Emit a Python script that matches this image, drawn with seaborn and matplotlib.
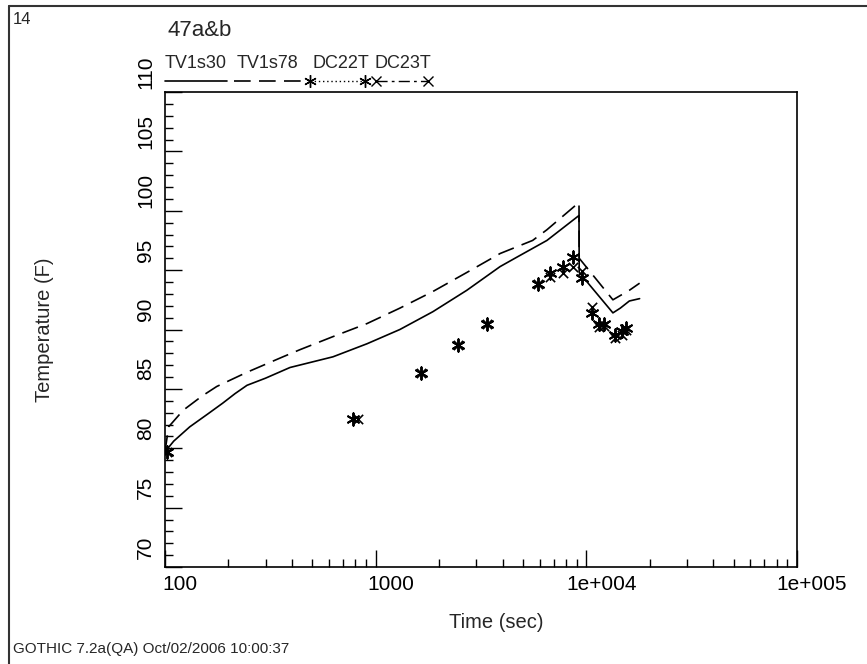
import numpy as np
import pandas as pd
import matplotlib
matplotlib.use("Agg")
import matplotlib.pyplot as plt
import matplotlib.transforms as mtransforms
import seaborn as sns
from matplotlib.ticker import MultipleLocator, FixedLocator, NullFormatter, LogLocator
from matplotlib.lines import Line2D

# time (sec) / temperature (F)
tv1s30_t = [100, 110, 131, 160, 188, 215, 245, 300, 392, 627, 910, 1303, 1869,
            2707, 3898, 4690, 6500, 9230, 9250, 13370, 14500, 16000, 17900]
tv1s30_T = [79.7, 80.6, 81.8, 82.9, 83.8, 84.6, 85.3, 85.9, 86.8, 87.7, 88.8, 90.0, 91.5,
            93.3, 95.3, 96.1, 97.5, 99.6, 94.8, 91.4, 91.8, 92.4, 92.6]

tv1s78_t = [100, 104, 122, 150, 176, 245, 363, 437, 627, 910, 1303, 1869, 2707,
            3898, 5560, 6500, 9230, 9250, 13370, 16000, 17900]
tv1s78_T = [79.7, 81.8, 83.2, 84.4, 85.2, 86.4, 87.7, 88.3, 89.4, 90.5, 91.8, 93.2, 94.8,
            96.4, 97.5, 98.4, 100.7, 96.0, 92.5, 93.3, 93.9]

dc22t_t = [102, 781, 1641, 2459, 3374, 5890, 6710, 7740, 8630, 9530, 10650, 11480, 12100, 13670, 14750, 15420]
dc22t_T = [79.7, 82.5, 86.3, 88.7, 90.5, 93.8, 94.8, 95.3, 96.1, 94.3, 91.4, 90.5, 90.5, 89.5, 89.9, 90.1]

dc23t_t = [102, 826, 1641, 2459, 3374, 5890, 6710, 7740, 8630, 9530, 10650, 11480, 12100, 13670, 14750, 15420]
dc23t_T = [79.7, 82.5, 86.3, 88.7, 90.5, 93.8, 94.4, 94.8, 95.3, 94.9, 91.9, 90.2, 90.3, 89.3, 89.5, 90.0]

legend_names = ["TV1s30", "TV1s78", "DC22T", "DC23T"]
xtick_vals = [100, 1000, 1e4, 1e5]
xtick_text = ["100", "1000", "1e+004", "1e+005"]

W, H = 867, 664

sns.set_style("ticks")
plt.rcParams["font.family"] = ["Liberation Sans", "DejaVu Sans"]
plt.rcParams["lines.scale_dashes"] = False


def fx(px):
    return px / W


def fy(py):
    return 1 - py / H


fig = plt.figure(figsize=(W / 100, H / 100), dpi=100)
ax = fig.add_axes([fx(165), fy(567), (797 - 165) / W, (567 - 92) / H])

dash = (0, (12, 6))
sns.lineplot(x=tv1s30_t, y=tv1s30_T, ax=ax, color="black", lw=1.2,
             sort=False, estimator=None)
sns.lineplot(x=tv1s78_t, y=tv1s78_T, ax=ax, color="black", lw=1.2,
             sort=False, estimator=None, linestyle=dash)
sns.scatterplot(x=dc22t_t, y=dc22t_T, ax=ax, color="black", marker=(6, 2, 0),
                s=80, linewidth=1.4, zorder=3)
sns.scatterplot(x=dc23t_t, y=dc23t_T, ax=ax, color="black", marker="x",
                s=45, linewidth=1.2, zorder=3)

ax.set_xscale("log")
ax.set_xlim(100, 1e5)
ax.set_ylim(70, 110)
ax.xaxis.set_major_locator(FixedLocator(xtick_vals))
ax.xaxis.set_minor_locator(LogLocator(base=10, subs=np.arange(2, 10)))
ax.xaxis.set_minor_formatter(NullFormatter())
ax.set_xticklabels(xtick_text)
ax.yaxis.set_major_locator(MultipleLocator(5))
ax.yaxis.set_minor_locator(MultipleLocator(1))

for s in ax.spines.values():
    s.set_visible(True)
    s.set_linewidth(1.2)
    s.set_color("black")

ax.tick_params(which="both", direction="in", top=False, right=False,
               colors="black", width=1.0, labelsize=15)
ax.tick_params(which="major", length=12)
ax.tick_params(which="minor", length=6)
ax.tick_params(axis="x", pad=6)
ax.tick_params(axis="y", pad=7, labelrotation=90)

# GOTHIC puts tick labels a bit off the tick: x labels to the right, y labels higher
xshift = mtransforms.ScaledTranslation(15 / 100, 0, fig.dpi_scale_trans)
for lbl in ax.get_xticklabels():
    lbl.set_transform(lbl.get_transform() + xshift)
yshift = mtransforms.ScaledTranslation(0, 20 / 100, fig.dpi_scale_trans)
for lbl in ax.get_yticklabels():
    lbl.set_va("center")
    lbl.set_transform(lbl.get_transform() + yshift)

ax.set_xlabel("Time (sec)", fontsize=14.5)
ax.xaxis.set_label_coords((496 - 165) / 632, -(622 - 567) / 475)
ax.xaxis.label.set_va("center")
ax.set_ylabel("Temperature (F)", fontsize=14.5)
ax.yaxis.set_label_coords(-(165 - 45) / 632, 0.5)
ax.yaxis.label.set_va("center")

# header / footer texts
fig.text(fx(13), fy(19), "14", fontsize=12, va="center", ha="left")
fig.text(fx(168), fy(30), "47a&b", fontsize=16, va="center", ha="left")
fig.text(fx(13), fy(649), "GOTHIC 7.2a(QA) Oct/02/2006 10:00:37", fontsize=11,
         va="center", ha="left")

# legend drawn above the axes: text over line sample
leg_text_x = [165, 237, 313, 375]
for name, tx in zip(legend_names, leg_text_x):
    fig.text(fx(tx), fy(63), name, fontsize=13, va="center", ha="left")
ly = fy(81)
ax.plot([fx(165), fx(227)], [ly, ly], transform=fig.transFigure, clip_on=False,
        color="black", lw=1.2)
ax.plot([fx(234), fx(303)], [ly, ly], transform=fig.transFigure, clip_on=False,
        color="black", lw=1.2, linestyle=dash)
ax.plot([fx(310), fx(365)], [ly, ly], transform=fig.transFigure, clip_on=False,
        color="black", lw=1.0, linestyle=(0, (1, 2)), marker=(6, 2, 0), ms=9)
ax.plot([fx(376), fx(428)], [ly, ly], transform=fig.transFigure, clip_on=False,
        color="black", lw=1.0, linestyle=(0, (8, 3, 2, 3)), marker="x", ms=7)

# outer frame (left and top edges)
fig.add_artist(Line2D([fx(9), fx(9)], [fy(5.5), 0], color="#333333", lw=1.5))
fig.add_artist(Line2D([fx(9), 1], [fy(5.5), fy(5.5)], color="#333333", lw=1.5))

fig.savefig("out.png", dpi=100)
